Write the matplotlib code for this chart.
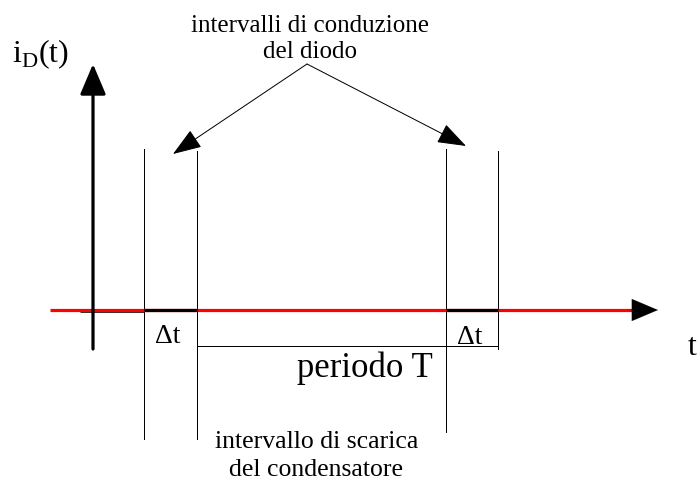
import matplotlib
matplotlib.use("Agg")
import matplotlib.pyplot as plt

# Diagram geometry (pixel coordinates of the reference)
axis_x = 93
axis_y = 311
vert_axis_range = [350, 65]
horiz_axis_range = [50, 658]
conduction_intervals = [(144, 197), (446, 498)]
guide_lines = [(144, 150, 440), (197, 152, 440), (446, 150, 433), (498, 152, 350)]
period_line = [197, 498, 347]
arrow_apex = (307, 65)
arrow_tips = [(173, 155), (466, 147)]

title_top = ["intervalli di conduzione", "del diodo"]
title_bottom = ["intervallo di scarica", "del condensatore"]
period_label = "periodo T"
delta_label = "Δt"
y_label = r"i$_\mathregular{D}$(t)"
x_label = "t"

plt.rcParams['font.family'] = ['Liberation Serif', 'DejaVu Serif']
plt.rcParams['mathtext.fontset'] = 'custom'
plt.rcParams['mathtext.rm'] = 'Liberation Serif'

fig = plt.figure(figsize=(7, 4.85), dpi=100)
ax = fig.add_axes([0, 0, 1, 1])
ax.set_xlim(0, 700)
ax.set_ylim(485, 0)
ax.axis('off')

PX = 72 / 100  # points per pixel

# horizontal axis: red shaft, black conduction segments, black arrow head
ax.plot([80, 144], [axis_y + 0.5, axis_y + 0.5], color='#333333', lw=3 * PX, solid_capstyle='butt', zorder=2)
ax.plot([horiz_axis_range[0], 640], [axis_y, axis_y], color='#ff0000', lw=3.2 * PX,
        solid_capstyle='butt', zorder=3)
ax.annotate('', xy=(horiz_axis_range[1], axis_y), xytext=(horiz_axis_range[1] - 30, axis_y),
            arrowprops=dict(arrowstyle='-|>,head_length=1.3,head_width=0.55', mutation_scale=20 * PX,
                            lw=0.1, color='black', shrinkA=0, shrinkB=0), zorder=4)
for x0, x1 in conduction_intervals:
    ax.plot([x0, x1], [axis_y, axis_y], color='black', lw=3.2 * PX, solid_capstyle='butt', zorder=4)

# vertical axis
ax.annotate('', xy=(axis_x, vert_axis_range[1]), xytext=(axis_x, vert_axis_range[0]),
            arrowprops=dict(arrowstyle='-|>,head_length=1.3,head_width=0.55', mutation_scale=20 * PX,
                            lw=3.2 * PX, color='black', shrinkA=0, shrinkB=0), zorder=5)

# thin guide lines
for x, y0, y1 in guide_lines:
    ax.plot([x, x], [y0, y1], color='black', lw=1 * PX, zorder=2)
ax.plot([period_line[0], period_line[1]], [period_line[2], period_line[2]], color='black', lw=1 * PX, zorder=2)

# annotation arrows
for tip in arrow_tips:
    ax.annotate('', xy=tip, xytext=arrow_apex,
                arrowprops=dict(arrowstyle='-|>,head_length=1.4,head_width=0.5', mutation_scale=18 * PX,
                                lw=1 * PX, color='black', shrinkA=0, shrinkB=0), zorder=5)

# texts
ax.text(310, 32, title_top[0], ha='center', va='baseline', fontsize=18)
ax.text(310, 58, title_top[1], ha='center', va='baseline', fontsize=18)
ax.text(317, 448, title_bottom[0], ha='center', va='baseline', fontsize=18.5)
ax.text(316, 476, title_bottom[1], ha='center', va='baseline', fontsize=18.5)
ax.text(365, 377, period_label, ha='center', va='baseline', fontsize=25)
ax.text(168, 343, delta_label, ha='center', va='baseline', fontsize=20)
ax.text(470, 344, delta_label, ha='center', va='baseline', fontsize=20)
ax.text(12, 62, y_label, ha='left', va='baseline', fontsize=23)
ax.text(688, 355, x_label, ha='left', va='baseline', fontsize=23)

fig.savefig('out.png', dpi=100)
